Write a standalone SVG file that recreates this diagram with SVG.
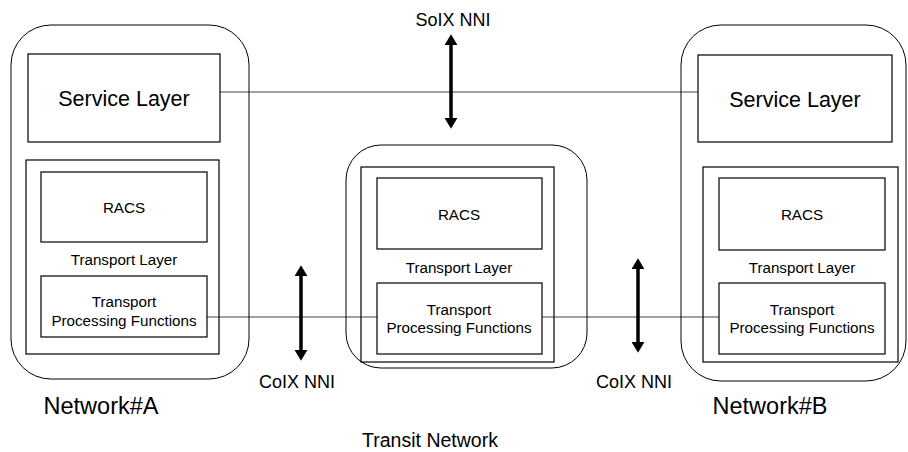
<svg xmlns="http://www.w3.org/2000/svg" width="908" height="452" viewBox="0 0 908 452">
<defs>
<style>
text{font-family:"Liberation Sans",Arial,sans-serif;fill:#000;text-anchor:middle}
.outer{fill:none;stroke:#000;stroke-width:1}
.box{fill:none;stroke:#000;stroke-width:1.2}
.conn{fill:none;stroke:#444;stroke-width:1}
.nni{fill:none;stroke:#000;stroke-width:3.5}
.big{font-size:21.5px}
.net{font-size:23.5px}
.tr{font-size:19.5px}
.mid{font-size:18px}
.sm{font-size:15.2px}
</style>
<marker id="ah" viewBox="0 0 10 12" refX="2" refY="6" markerWidth="11" markerHeight="13" markerUnits="userSpaceOnUse" orient="auto-start-reverse">
<path d="M0,0 L10,6 L0,12 Z" fill="#000"/>
</marker>
</defs>
<g id="connectors">
<line class="conn" x1="220" y1="92" x2="698" y2="92"/>
<line class="conn" x1="207" y1="317" x2="377" y2="317"/>
<line class="conn" x1="542" y1="317" x2="719" y2="317"/>
<line class="nni" x1="451" y1="43" x2="451" y2="120" marker-start="url(#ah)" marker-end="url(#ah)"/>
<line class="nni" x1="301" y1="274" x2="301" y2="352" marker-start="url(#ah)" marker-end="url(#ah)"/>
<line class="nni" x1="638" y1="267" x2="638" y2="344" marker-start="url(#ah)" marker-end="url(#ah)"/>
</g>
<g id="networkA">
<rect class="outer" x="11" y="25" width="238" height="354" rx="40" ry="40"/>
<g id="serviceA"><rect class="box" x="28" y="54" width="192" height="88"/><text class="big" x="124" y="106">Service Layer</text></g>
<g id="transportA"><rect class="box" x="26" y="160" width="193" height="194"/><text class="sm" x="124" y="265">Transport Layer</text></g>
<g id="racsA"><rect class="box" x="41" y="172" width="166" height="70"/><text class="sm" x="124" y="213">RACS</text></g>
<g id="tpfA"><rect class="box" x="41" y="276" width="166" height="61"/><text class="sm" x="124" y="307">Transport</text><text class="sm" x="124" y="326">Processing Functions</text></g>
</g>
<g id="transit">
<rect class="outer" x="346" y="145" width="241" height="223" rx="35" ry="35"/>
<g id="transportT"><rect class="box" x="361" y="167" width="193" height="195"/><text class="sm" x="459" y="273">Transport Layer</text></g>
<g id="racsT"><rect class="box" x="377" y="178" width="165" height="71"/><text class="sm" x="459" y="220">RACS</text></g>
<g id="tpfT"><rect class="box" x="377" y="283" width="165" height="71"/><text class="sm" x="459" y="315">Transport</text><text class="sm" x="459" y="333">Processing Functions</text></g>
</g>
<g id="networkB">
<rect class="outer" x="681" y="25" width="225" height="356" rx="40" ry="40"/>
<g id="serviceB"><rect class="box" x="698" y="55" width="194" height="87"/><text class="big" x="795" y="107">Service Layer</text></g>
<g id="transportB"><rect class="box" x="703" y="167" width="195" height="195"/><text class="sm" x="802" y="273">Transport Layer</text></g>
<g id="racsB"><rect class="box" x="719" y="178" width="166" height="72"/><text class="sm" x="802" y="220">RACS</text></g>
<g id="tpfB"><rect class="box" x="719" y="283" width="166" height="71"/><text class="sm" x="802" y="315">Transport</text><text class="sm" x="802" y="333">Processing Functions</text></g>
</g>
<g id="labels">
<text class="mid" x="453" y="26">SoIX NNI</text>
<text class="mid" x="297" y="388">CoIX NNI</text>
<text class="mid" x="634" y="388">CoIX NNI</text>
<text class="net" x="101" y="414">Network#A</text>
<text class="tr" x="430" y="447">Transit Network</text>
<text class="net" x="770" y="414">Network#B</text>
</g>
</svg>
